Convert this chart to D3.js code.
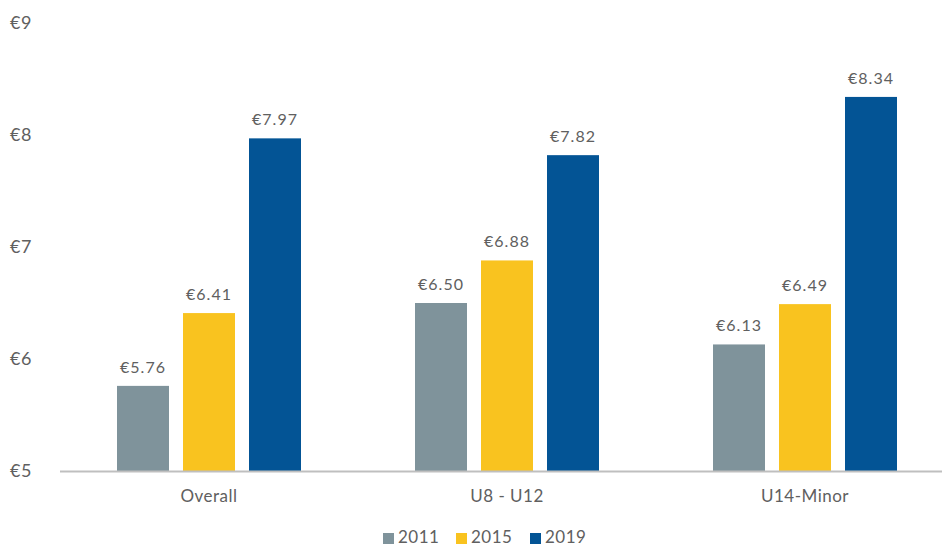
<!DOCTYPE html>
<html>
<head>
<meta charset="utf-8">
<script src="https://cdn.jsdelivr.net/npm/d3@7"></script>
<style>
  body { margin: 0; background: #fff; }
  text { font-family: Lato, "Open Sans", sans-serif; fill: #606060; }
</style>
</head>
<body>
<div id="chart"></div>
<script>
// data
var categories = ["Overall", "U8 - U12", "U14-Minor"];
var years = ["2011", "2015", "2019"];
var values2011 = [5.76, 6.50, 6.13];
var values2015 = [6.41, 6.88, 6.49];
var values2019 = [7.97, 7.82, 8.34];
var yTicks = [5, 6, 7, 8, 9];
var colors = ["#7f939b", "#f9c31f", "#035495"];

var width = 942, height = 547;
var svg = d3.select("#chart").append("svg")
    .attr("width", width)
    .attr("height", height);

var series = [values2011, values2015, values2019];

// scales
var x0 = d3.scaleBand()
    .domain(categories)
    .range([60, 954]);

var x1 = d3.scaleBand()
    .domain(years)
    .range([0, 184])
    .paddingInner(14 / 66);

var y = d3.scaleLinear()
    .domain([5, 9])
    .range([471, 23]);

// y tick labels
svg.selectAll(".ytick")
    .data(yTicks)
    .enter().append("text")
    .attr("class", "ytick")
    .attr("x", 10)
    .attr("y", d => y(d))
    .attr("dy", "0.35em")
    .style("font-size", "18px")
    .style("letter-spacing", "0.5px")
    .text(d => "€" + d);

// bars
categories.forEach(function (cat, i) {
    var g = svg.append("g")
        .attr("transform", "translate(" + (x0(cat) + x0.bandwidth() / 2 - 92) + ",0)");
    years.forEach(function (yr, j) {
        var v = series[j][i];
        g.append("rect")
            .attr("x", x1(yr))
            .attr("y", y(v))
            .attr("width", x1.bandwidth())
            .attr("height", y(5) - y(v))
            .attr("fill", colors[j]);
        g.append("text")
            .attr("x", x1(yr) + x1.bandwidth() / 2)
            .attr("y", y(v) - 13)
            .attr("text-anchor", "middle")
            .style("font-size", "16px")
            .style("letter-spacing", "1px")
            .text("€" + v.toFixed(2));
    });
});

// baseline
svg.append("line")
    .attr("x1", 60)
    .attr("x2", 942)
    .attr("y1", y(5) + 0.5)
    .attr("y2", y(5) + 0.5)
    .attr("stroke", "#bfbfbf")
    .attr("stroke-width", 2);

// category labels
svg.selectAll(".xlabel")
    .data(categories)
    .enter().append("text")
    .attr("class", "xlabel")
    .attr("x", d => x0(d) + x0.bandwidth() / 2)
    .attr("y", 496)
    .attr("dy", "0.35em")
    .attr("text-anchor", "middle")
    .style("font-size", "17px")
    .style("letter-spacing", "0.5px")
    .text(d => d);

// legend
var legendX = [383, 456, 530];
var legend = svg.selectAll(".legend")
    .data(years)
    .enter().append("g")
    .attr("class", "legend")
    .attr("transform", (d, i) => "translate(" + legendX[i] + ",537)");

legend.append("rect")
    .attr("x", 0)
    .attr("y", -4)
    .attr("width", 11)
    .attr("height", 11)
    .attr("fill", (d, i) => colors[i]);

legend.append("text")
    .attr("x", 15)
    .attr("y", 0)
    .attr("dy", "0.35em")
    .style("font-size", "17px")
    .style("letter-spacing", "0.5px")
    .text(d => d);
</script>
</body>
</html>
